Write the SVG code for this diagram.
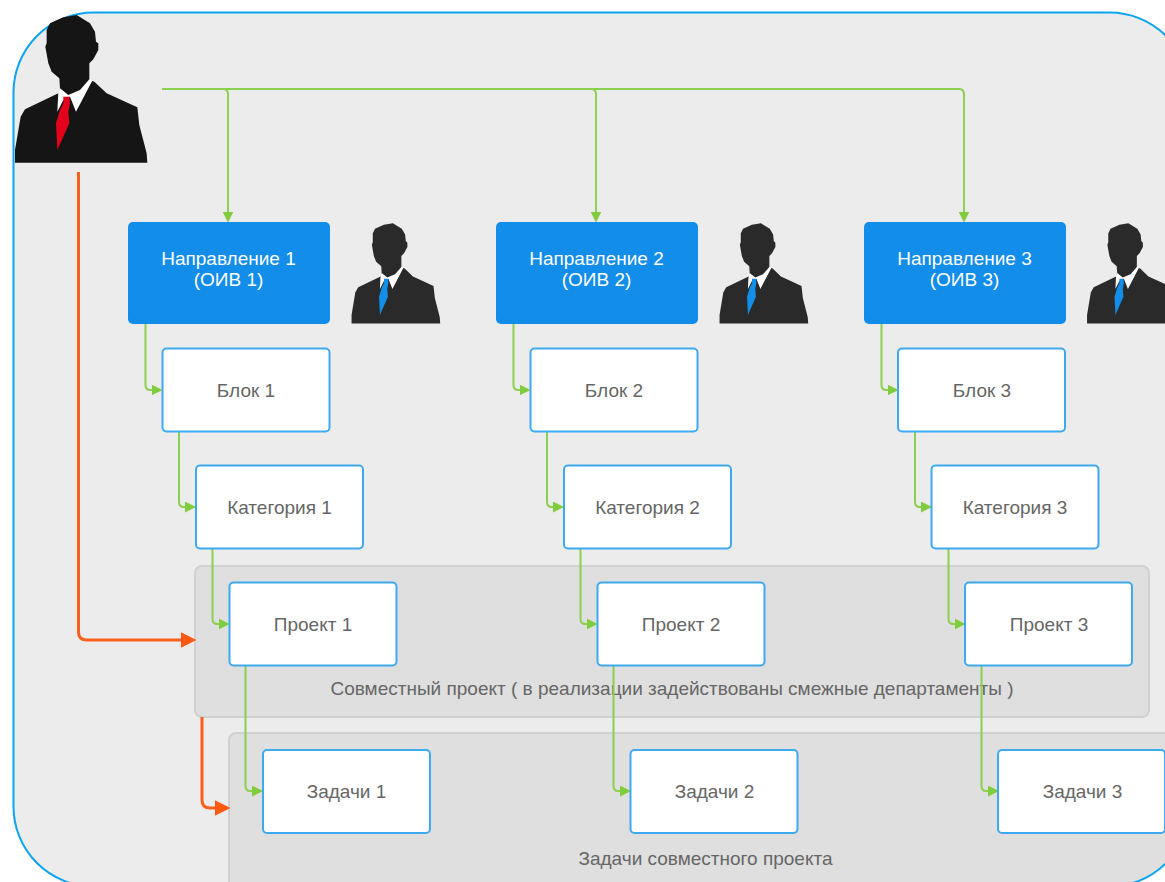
<svg xmlns="http://www.w3.org/2000/svg" xmlns:xlink="http://www.w3.org/1999/xlink" width="1165" height="882" viewBox="0 0 1165 882">
<style>
text{font-family:"Liberation Sans",Arial,sans-serif;font-size:19px;fill:#666;text-anchor:middle}
.dir{fill:#128de9}
.dir text,text.w{fill:#fff}
.box rect{fill:#fff;stroke:#3daaf0;stroke-width:2}
.grp{fill:#dfdfdf;stroke:#d0d0d0;stroke-width:2}
.g{fill:none;stroke:#8bd04f;stroke-width:2}
.o{fill:none;stroke:#f9601c;stroke-width:3}
.t1{color:#e2001a}
.t2{color:#128de9}
</style>
<defs>
<marker id="ag" viewBox="0 0 10 10" refX="5" refY="5" markerWidth="11" markerHeight="11" markerUnits="userSpaceOnUse" orient="auto"><path d="M0 0L10 5L0 10Z" fill="#7fcc3c"/></marker>
<marker id="ao" viewBox="0 0 15 15" refX="7" refY="7.5" markerWidth="16" markerHeight="16" markerUnits="userSpaceOnUse" orient="auto"><path d="M0 0L15 7.5L0 15Z" fill="#fb5a10"/></marker>
<clipPath id="bgclip"><rect x="13.5" y="12.5" width="1176" height="874" rx="80"/></clipPath>
<g id="person" transform="scale(.3333)">
<path d="M230 45L270 70L285 95L288 125L295 130L295 150L280 178L268 190L268 240L283 245L320 280L412 322L418 375L440 460L442 488L45 488L45 450L62 350L75 328L175 280L180 265L178 235L155 215L145 190L136 140L140 130L140 90L150 70L190 52Z"/>
<path d="M175 275L172 335L190 300L210 290L228 335L278 240L268 238L240 270L205 285L180 265Z" fill="#fff"/>
<path d="M190 290L208 290L210 310L205 335L208 370L172 450L168 370L180 330L190 310Z" fill="currentColor"/>
</g>
</defs>
<rect id="background" x="13.5" y="12.5" width="1176" height="874" rx="80" fill="#ececec"/>
<g id="group-joint"><rect class="grp" x="195" y="566" width="954" height="151" rx="7"/><text x="672" y="695">Совместный проект ( в реализации задействованы смежные департаменты )</text></g>
<g id="group-tasks" clip-path="url(#bgclip)"><rect class="grp" x="229" y="733" width="980" height="180" rx="7"/><text x="705.500" y="865">Задачи совместного проекта</text></g>
<rect id="frame" x="13.5" y="12.5" width="1176" height="874" rx="80" fill="none" stroke="#0aa5ee" stroke-width="2"/>
<g id="connectors">
<path class="g" d="M162 89H959Q964 89 964 94V217" marker-end="url(#ag)"/>
<path class="g" d="M223 89Q228 89 228 94V217" marker-end="url(#ag)"/>
<path class="g" d="M591 89Q596 89 596 94V217" marker-end="url(#ag)"/>
<g id="c1"><path class="g" d="M145.500 324V385Q145.500 390 150.500 390H157" marker-end="url(#ag)"/><path class="g" d="M179 432V502Q179 507 184 507H190.500" marker-end="url(#ag)"/><path class="g" d="M212.500 549V619Q212.500 624 217.500 624H224" marker-end="url(#ag)"/><path class="g" d="M245.500 666V786Q245.500 791 250.500 791H257.500" marker-end="url(#ag)"/></g>
<g id="c2"><path class="g" d="M513.500 324V385Q513.500 390 518.500 390H525" marker-end="url(#ag)"/><path class="g" d="M547 432V502Q547 507 552 507H558.500" marker-end="url(#ag)"/><path class="g" d="M580.500 549V619Q580.500 624 585.500 624H592" marker-end="url(#ag)"/><path class="g" d="M613.500 666V786Q613.500 791 618.500 791H625.500" marker-end="url(#ag)"/></g>
<g id="c3"><path class="g" d="M881.500 324V385Q881.500 390 886.500 390H893" marker-end="url(#ag)"/><path class="g" d="M915 432V502Q915 507 920 507H926.500" marker-end="url(#ag)"/><path class="g" d="M948.500 549V619Q948.500 624 953.500 624H960" marker-end="url(#ag)"/><path class="g" d="M981.500 666V786Q981.500 791 986.500 791H993.500" marker-end="url(#ag)"/></g>
<path class="o" d="M78.500 172V632Q78.500 640 86.500 640H188" marker-end="url(#ao)"/>
<path class="o" d="M202 717V800Q202 808 210 808H222" marker-end="url(#ao)"/>
</g>
<g id="boss" class="t1"><use xlink:href="#person" href="#person" fill="#151515"/></g>
<g id="manager-1" class="t2" transform="translate(341.500 0)"><g transform="translate(0 213) scale(.67 .68)"><use href="#person" fill="#2a2a2a"/></g></g>
<g id="manager-2" class="t2" transform="translate(709.500 0)"><g transform="translate(0 213) scale(.67 .68)"><use href="#person" fill="#2a2a2a"/></g></g>
<g id="manager-3" class="t2" transform="translate(1077 0)"><g transform="translate(0 213) scale(.67 .68)"><use href="#person" fill="#2a2a2a"/></g></g>
<g id="dir-1"><rect class="dir" x="128" y="222" width="202" height="102" rx="5"/><text class="w" x="228.500" y="264.500">Направление 1</text><text class="w" x="228.500" y="285.500">(ОИВ 1)</text></g>
<g id="dir-2"><rect class="dir" x="496" y="222" width="202" height="102" rx="5"/><text class="w" x="596.500" y="264.500">Направление 2</text><text class="w" x="596.500" y="285.500">(ОИВ 2)</text></g>
<g id="dir-3"><rect class="dir" x="864" y="222" width="202" height="102" rx="5"/><text class="w" x="964.500" y="264.500">Направление 3</text><text class="w" x="964.500" y="285.500">(ОИВ 3)</text></g>
<g id="block-1" class="box"><rect x="162.500" y="348.500" width="167" height="83" rx="4"/><text x="246" y="396.500">Блок 1</text></g>
<g id="block-2" class="box"><rect x="530.500" y="348.500" width="167" height="83" rx="4"/><text x="614" y="396.500">Блок 2</text></g>
<g id="block-3" class="box"><rect x="898" y="348.500" width="167" height="83" rx="4"/><text x="982" y="396.500">Блок 3</text></g>
<g id="cat-1" class="box"><rect x="196" y="465.500" width="167" height="83" rx="4"/><text x="279.500" y="513.500">Категория 1</text></g>
<g id="cat-2" class="box"><rect x="564" y="465.500" width="167" height="83" rx="4"/><text x="647.500" y="513.500">Категория 2</text></g>
<g id="cat-3" class="box"><rect x="931.500" y="465.500" width="167" height="83" rx="4"/><text x="1015" y="513.500">Категория 3</text></g>
<g id="proj-1" class="box"><rect x="229.500" y="582.500" width="167" height="83" rx="4"/><text x="313" y="630.500">Проект 1</text></g>
<g id="proj-2" class="box"><rect x="597.500" y="582.500" width="167" height="83" rx="4"/><text x="681" y="630.500">Проект 2</text></g>
<g id="proj-3" class="box"><rect x="965" y="582.500" width="167" height="83" rx="4"/><text x="1049" y="630.500">Проект 3</text></g>
<g id="task-1" class="box"><rect x="263" y="750" width="167" height="83" rx="4"/><text x="346.500" y="797.500">Задачи 1</text></g>
<g id="task-2" class="box"><rect x="630.500" y="750" width="167" height="83" rx="4"/><text x="714.500" y="797.500">Задачи 2</text></g>
<g id="task-3" class="box"><rect x="998" y="750" width="167" height="83" rx="4"/><text x="1082.500" y="797.500">Задачи 3</text></g>
</svg>
